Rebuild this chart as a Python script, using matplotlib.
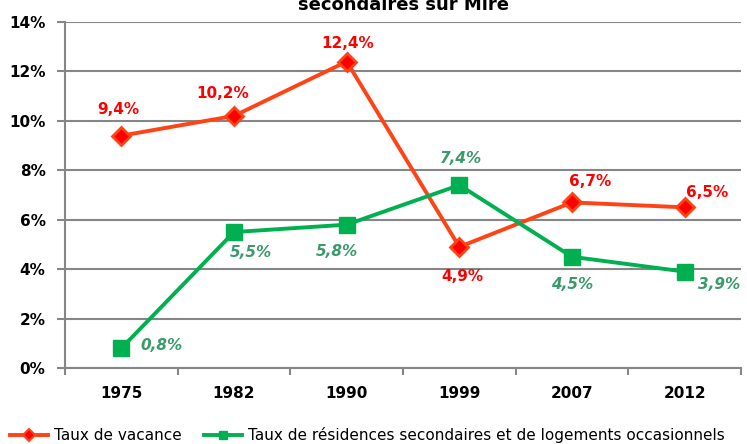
from matplotlib import pyplot as plt
from matplotlib.lines import Line2D
import numpy as np

years = ['1975', '1982', '1990', '1999', '2007', '2012']
vacance = [9.4, 10.2, 12.4, 4.9, 6.7, 6.5]
secondaires = [0.8, 5.5, 5.8, 7.4, 4.5, 3.9]
yticks = [0, 2, 4, 6, 8, 10, 12, 14]

plt.rcParams['font.family'] = ['DejaVu Sans']

fig = plt.figure(figsize=(7.47, 4.44), dpi=100)
ax = fig.add_axes([65 / 747, 1 - 368 / 444, 676 / 747, 346 / 444])

x = np.arange(len(years))
red_line = '#FF4315'
red_txt = '#FF0000'
green = '#00B050'
green_txt = '#3A9A6A'

ax.plot(x, vacance, color=red_line, lw=2.8, marker='D', ms=9.5,
        mfc=red_txt, mec=red_line, mew=2, zorder=3)
ax.plot(x, secondaires, color=green, lw=2.8, marker='s', ms=11,
        mfc=green, mec=green, zorder=3)

# label offsets in points
red_off = [(-2, 19), (-8, 16), (1, 13), (2, -21), (13, 15), (16, 11)]
for i, v in enumerate(vacance):
    dx, dy = red_off[i]
    ax.annotate(f'{v:.1f}%'.replace('.', ','), (x[i], v), xytext=(dx, dy),
                textcoords='offset points', ha='center', va='center',
                color=red_txt, fontsize=11, fontweight='bold')

green_off = [(29, 2), (12, -15), (-7, -19), (1, 19), (0, -20), (25, -9)]
for i, v in enumerate(secondaires):
    dx, dy = green_off[i]
    ax.annotate(f'{v:.1f}%'.replace('.', ','), (x[i], v), xytext=(dx, dy),
                textcoords='offset points', ha='center', va='center',
                color=green_txt, fontsize=11, fontweight='bold', style='italic')

ax.set_xlim(-0.5, len(years) - 0.5)
ax.set_ylim(0, 14)
ax.set_yticks(yticks)
ax.set_yticklabels([f'{t}%' for t in yticks], fontsize=11, fontweight='bold')
ax.set_xticks(x)
ax.set_xticklabels(years, fontsize=11, fontweight='bold')
ax.set_xticks(np.arange(-0.5, len(years)), minor=True)
ax.tick_params(axis='x', which='major', length=0, pad=13)
ax.tick_params(axis='x', which='minor', length=5, width=1.5, color='#868686')
ax.tick_params(axis='y', length=6, width=1.5, color='#868686', pad=8)

ax.grid(axis='y', color='#868686', lw=1.5)
ax.set_axisbelow(True)
for s in ['top', 'right']:
    ax.spines[s].set_visible(False)
for s in ['left', 'bottom']:
    ax.spines[s].set_color('#868686')
    ax.spines[s].set_linewidth(1.5)

# title, cut at the top edge like the original
fig.text(404 / 747, 1 - 10 / 444, 'secondaires sur Mire', ha='center', va='baseline',
         fontsize=13, fontweight='bold')

handles = [
    Line2D([], [], color=red_line, lw=2.8, marker='D', ms=6, mfc=red_txt, mec=red_line, mew=1.5),
    Line2D([], [], color=green, lw=2.8, marker='s', ms=6, mfc=green, mec=green),
]
labels = ['Taux de vacance', 'Taux de résidences secondaires et de logements occasionnels']
ax.legend(handles, labels, loc='center left', bbox_to_anchor=(-55 / 676, -67 / 346), ncol=2,
          frameon=False, fontsize=11, handlelength=2.5, columnspacing=1.5,
          handletextpad=0.35, borderaxespad=0, borderpad=0)

fig.savefig('out.png', dpi=100)
